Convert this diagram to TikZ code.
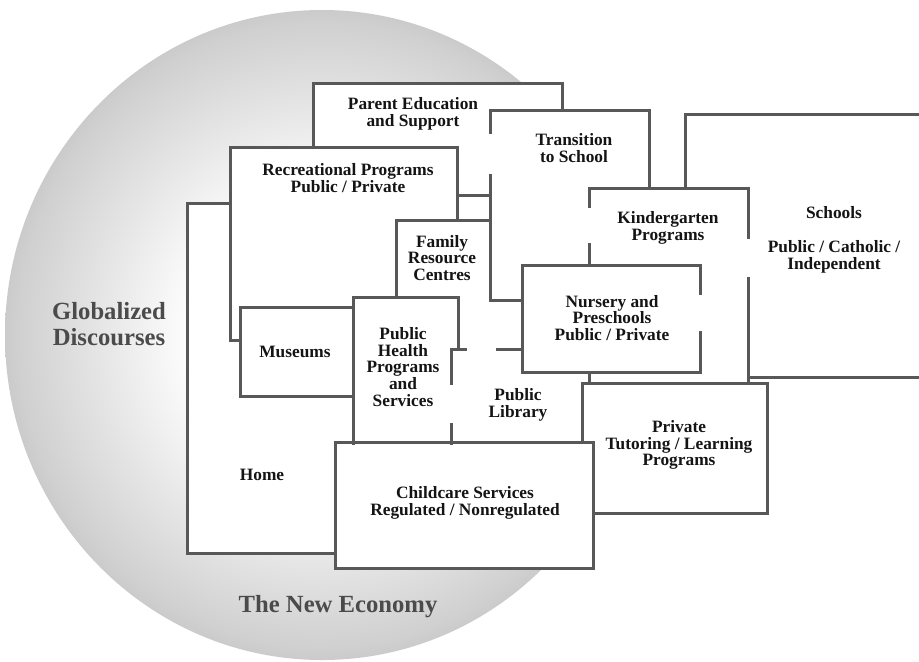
\documentclass[tikz,border=0pt]{standalone}
\usepackage{fontspec}
\setmainfont{Liberation Serif}
\definecolor{edge}{RGB}{88,88,88}
\definecolor{ellout}{RGB}{150,150,150}
\definecolor{ellmid}{RGB}{208,208,208}
\definecolor{txt}{RGB}{20,20,20}
\definecolor{bigtxt}{RGB}{75,75,75}
\pgfdeclareradialshading{ellshade}{\pgfpoint{0bp}{0bp}}{color(0bp)=(white); color(10bp)=(white); color(24bp)=(ellmid); color(35.4bp)=(ellout); color(50bp)=(ellout)}
\begin{document}
\begin{tikzpicture}[x=0.75pt,y=-0.75pt,
  wall/.style={draw=edge,line width=2.25pt,line cap=rect,line join=miter},
  lbl/.style={font=\fontsize{13}{12.6}\selectfont\bfseries,text=txt,align=center,inner sep=0pt},
  big/.style={font=\fontsize{18.5}{19}\selectfont\bfseries,text=bigtxt,align=center,inner sep=0pt}]
\fill[white] (0,0) rectangle (919,661);
\useasboundingbox (0,0) rectangle (919,661);
% surrounding ellipse
\shade[shading=ellshade] (322,335) ellipse [x radius=317, y radius=325];
% white interiors
\fill[white] (313,83) rectangle (562,195);
\fill[white] (457,190) rectangle (490,222);
\fill[white] (490,110) rectangle (649,300);
\fill[white] (685,114) rectangle (925,377);
\fill[white] (589,188) rectangle (748,382);
\fill[white] (230,147) rectangle (457,340);
\fill[white] (187,203) rectangle (335,553);
\fill[white] (396,220) rectangle (490,297);
\fill[white] (522,265) rectangle (700,372);
\fill[white] (240,307) rectangle (353,396);
\fill[white] (353,297) rectangle (458,443);
\fill[white] (451,297) rectangle (590,443);
\fill[white] (335,442) rectangle (593,568);
\fill[white] (582,383) rectangle (767,513);
% Parent Education
\draw[wall] (313,147) -- (313,83) -- (562,83) -- (562,110);
\draw[wall] (457,195) -- (490,195);
% Recreational
\draw[wall] (240,340) -- (230,340) -- (230,147) -- (457,147) -- (457,220);
% Home
\draw[wall] (230,203) -- (187,203) -- (187,553) -- (335,553);
% Family resource
\draw[wall] (396,297) -- (396,220) -- (490,220);
% Transition
\draw[wall] (522,300) -- (490,300) -- (490,175);
\draw[wall] (490,132) -- (490,110) -- (649,110) -- (649,188);
% Schools
\draw[wall] (685,188) -- (685,114) -- (925,114);
\draw[wall] (748,377) -- (925,377);
% Kindergarten
\draw[wall] (589,206) -- (589,188) -- (748,188) -- (748,237);
\draw[wall] (748,278) -- (748,383);
\draw[wall] (589,244) -- (589,265);
\draw[wall] (589,372) -- (589,383);
% Nursery
\draw[wall] (700,293) -- (700,265) -- (522,265) -- (522,372) -- (700,372) -- (700,332);
\draw[wall] (497,349) -- (522,349);
% Museums
\draw[wall] (353,307) -- (240,307) -- (240,396) -- (353,396);
% Public Health and Library
\draw[wall] (353,443) -- (353,297) -- (458,297) -- (458,349);
\draw[wall] (451,383) -- (451,349) -- (465,349);
\draw[wall] (451,424) -- (451,443);
% Private tutoring
\draw[wall] (582,442) -- (582,383) -- (767,383) -- (767,513) -- (593,513);
% Childcare
\draw[wall] (335,442) rectangle (593,568);
% labels
\node[big] (glob) at (109,324) {Globalized\\Discourses};
\node[big] (econ) at (338,607) {The New Economy};
\node[lbl] (parent) at (413,114) {Parent Education\\and Support};
\node[lbl] (recr) at (348,178) {Recreational Programs\\Public / Private};
\node[lbl] (trans) at (574,148) {Transition\\to School};
\node[lbl] (schools) at (834,240) {Schools\\[12.6pt]Public / Catholic /\\Independent};
\node[lbl] (kinder) at (668,228) {Kindergarten\\Programs};
\node[lbl] (family) at (442,258) {Family\\Resource\\Centres};
\node[lbl] (nursery) at (612,318) {Nursery and\\Preschools\\Public / Private};
\node[lbl] (museums) at (295,352) {Museums};
\node[lbl] (health) at (403,367) {Public\\Health\\Programs\\and\\Services};
\node[lbl] (library) at (518,405) {Public\\Library};
\node[lbl] (home) at (262,475) {Home};
\node[lbl] (child) at (465,503) {Childcare Services\\Regulated / Nonregulated};
\node[lbl] (tutor) at (679,445) {Private\\Tutoring / Learning\\Programs};
\end{tikzpicture}
\end{document}
